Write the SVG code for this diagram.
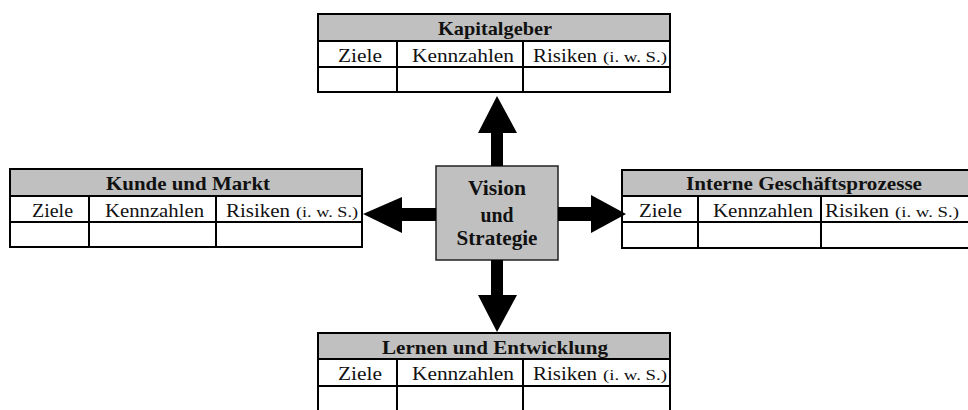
<svg xmlns="http://www.w3.org/2000/svg" width="968" height="410" viewBox="0 0 968 410">
  <style>
    .bg { fill: #ffffff; }
    .head { fill: #c0c0c0; }
    .grid { fill: none; stroke: #000; stroke-width: 2; }
    .ttl { font-family: "Liberation Serif", "Times New Roman", serif; font-weight: bold; font-size: 19px; fill: #111; text-anchor: middle; }
    .core-t { font-family: "Liberation Serif", "Times New Roman", serif; font-weight: bold; font-size: 20px; fill: #111; text-anchor: middle; }
    .cell { font-family: "Liberation Serif", "Times New Roman", serif; font-size: 19px; fill: #111; }
    .small { font-family: "Liberation Serif", "Times New Roman", serif; font-size: 15px; fill: #111; }
    .core { fill: #c0c0c0; stroke: #222; stroke-width: 1.5; }
    .arrow { fill: #000; }
  </style>

  <rect class="bg" x="0" y="0" width="968" height="410"/>

  <!-- Perspective: Kapitalgeber (top) -->
  <g id="kapitalgeber">
    <rect class="head" x="318" y="14" width="352" height="27"/>
    <path class="grid" d="M318 14 H670 V92 H318 Z M318 41 H670 M318 67 H670 M397 41 V92 M523 41 V92"/>
    <text class="ttl" x="495" y="35" textLength="114" lengthAdjust="spacingAndGlyphs">Kapitalgeber</text>
    <text class="cell" x="338" y="62" textLength="44" lengthAdjust="spacingAndGlyphs">Ziele</text>
    <text class="cell" x="412" y="62" textLength="102" lengthAdjust="spacingAndGlyphs">Kennzahlen</text>
    <text class="cell" x="533" y="62" textLength="64" lengthAdjust="spacingAndGlyphs">Risiken</text>
    <text class="small" x="603" y="62" textLength="64" lengthAdjust="spacingAndGlyphs">(i. w. S.)</text>
  </g>

  <!-- Perspective: Kunde und Markt (left) -->
  <g id="kunde-markt">
    <rect class="head" x="10" y="169" width="352" height="27"/>
    <path class="grid" d="M10 169 H362 V247 H10 Z M10 196 H362 M10 222 H362 M89 196 V247 M216 196 V247"/>
    <text class="ttl" x="188" y="190" textLength="164" lengthAdjust="spacingAndGlyphs">Kunde und Markt</text>
    <text class="cell" x="32" y="217" textLength="41" lengthAdjust="spacingAndGlyphs">Ziele</text>
    <text class="cell" x="105" y="217" textLength="99" lengthAdjust="spacingAndGlyphs">Kennzahlen</text>
    <text class="cell" x="226" y="217" textLength="64" lengthAdjust="spacingAndGlyphs">Risiken</text>
    <text class="small" x="296" y="217" textLength="62" lengthAdjust="spacingAndGlyphs">(i. w. S.)</text>
  </g>

  <!-- Perspective: Interne Geschäftsprozesse (right, runs past the page edge) -->
  <g id="interne-prozesse">
    <rect class="head" x="622" y="170" width="352" height="26"/>
    <path class="grid" d="M974 170 H622 V248 H974 M622 196 H974 M622 222 H974 M698 196 V248 M821 196 V248"/>
    <text class="ttl" x="804" y="190" textLength="236" lengthAdjust="spacingAndGlyphs">Interne Geschäftsprozesse</text>
    <text class="cell" x="639" y="217" textLength="43" lengthAdjust="spacingAndGlyphs">Ziele</text>
    <text class="cell" x="713" y="217" textLength="100" lengthAdjust="spacingAndGlyphs">Kennzahlen</text>
    <text class="cell" x="825" y="217" textLength="64" lengthAdjust="spacingAndGlyphs">Risiken</text>
    <text class="small" x="895" y="217" textLength="64" lengthAdjust="spacingAndGlyphs">(i. w. S.)</text>
  </g>

  <!-- Perspective: Lernen und Entwicklung (bottom, runs past the page edge) -->
  <g id="lernen-entwicklung">
    <rect class="head" x="318" y="333" width="352" height="26"/>
    <path class="grid" d="M318 414 V333 H670 V414 M318 359 H670 M318 386 H670 M397 359 V414 M523 359 V414"/>
    <text class="ttl" x="495" y="354" textLength="226" lengthAdjust="spacingAndGlyphs">Lernen und Entwicklung</text>
    <text class="cell" x="338" y="380" textLength="44" lengthAdjust="spacingAndGlyphs">Ziele</text>
    <text class="cell" x="412" y="380" textLength="102" lengthAdjust="spacingAndGlyphs">Kennzahlen</text>
    <text class="cell" x="533" y="380" textLength="64" lengthAdjust="spacingAndGlyphs">Risiken</text>
    <text class="small" x="603" y="380" textLength="64" lengthAdjust="spacingAndGlyphs">(i. w. S.)</text>
  </g>

  <!-- Core: Vision und Strategie -->
  <g id="vision-strategie">
    <rect class="core" x="436" y="166" width="122" height="94"/>
    <text class="core-t" x="497" y="195" textLength="58" lengthAdjust="spacingAndGlyphs">Vision</text>
    <text class="core-t" x="497" y="222" textLength="33" lengthAdjust="spacingAndGlyphs">und</text>
    <text class="core-t" x="497" y="245" textLength="81" lengthAdjust="spacingAndGlyphs">Strategie</text>
  </g>

  <!-- Block arrows from the core to each perspective -->
  <g id="connectors">
    <polygon class="arrow" points="491,166 491,133 478,133 497,96 517,133 503,133 503,166"/>
    <polygon class="arrow" points="491,260 491,295 478,295 497,332 517,295 503,295 503,260"/>
    <polygon class="arrow" points="436,208 402,208 402,197 363,214 402,233 402,221 436,221"/>
    <polygon class="arrow" points="558,207 591,207 591,195 626,214 591,233 591,221 558,221"/>
  </g>
</svg>
